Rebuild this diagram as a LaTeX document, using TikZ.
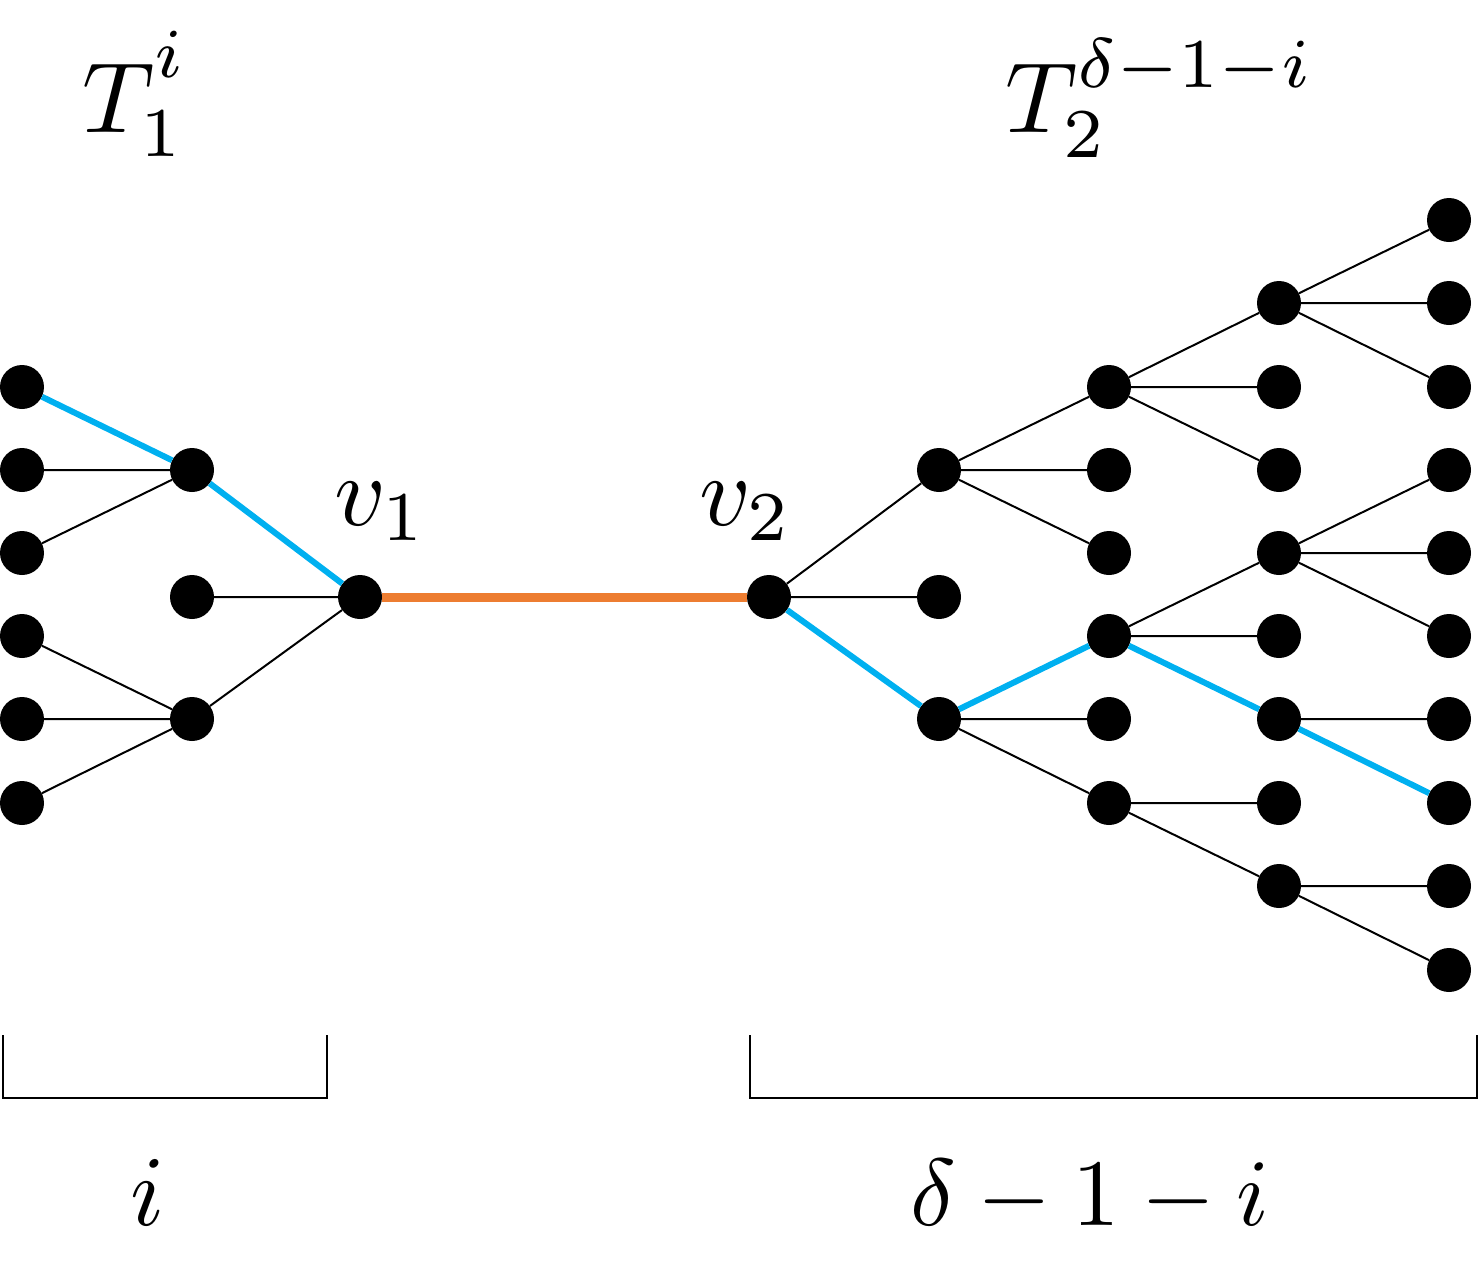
\documentclass[tikz,border=0pt]{standalone}
\begin{document}
\begin{tikzpicture}[x=1pt,y=-1pt,
  vtx/.style={circle,fill=black,draw=none,minimum size=44pt,inner sep=0pt},
  edge/.style={line width=2pt,black},
  bluepath/.style={line width=6pt,color=pathblue},
  bridge/.style={line width=9pt,color=bridgeorange},
  lbl/.style={scale=10,inner sep=0pt},
  brk/.style={line width=2pt,black}]
\definecolor{pathblue}{HTML}{00B0F0}
\definecolor{bridgeorange}{HTML}{ED7D31}
\useasboundingbox (0,0) rectangle (1479,1264);
% vertices
\foreach \n/\y in {a1/387,a2/470,a3/553,a4/636,a5/719,a6/803}
  \node[vtx] (\n) at (22,\y) {};
\foreach \n/\y in {b1/470,b2/597,b3/719}
  \node[vtx] (\n) at (192,\y) {};
\node[vtx] (v1) at (360,597) {};
\node[vtx] (v2) at (769,597) {};
\foreach \n/\y in {c1/470,c2/597,c3/719}
  \node[vtx] (\n) at (939,\y) {};
\foreach \n/\y in {d1/387,d2/470,d3/553,d4/636,d5/719,d6/803}
  \node[vtx] (\n) at (1109,\y) {};
\foreach \n/\y in {e1/303,e2/387,e3/470,e4/553,e5/636,e6/719,e7/803,e8/886}
  \node[vtx] (\n) at (1279,\y) {};
\foreach \n/\y in {f1/220,f2/303,f3/387,f4/470,f5/553,f6/636,f7/719,f8/803,f9/886,f10/970}
  \node[vtx] (\n) at (1449,\y) {};
% edges
\draw[edge] (a2) -- (b1) (a3) -- (b1) (a4) -- (b3) (a5) -- (b3) (a6) -- (b3)
  (b2) -- (v1) (b3) -- (v1)
  (v2) -- (c1) (v2) -- (c2)
  (c1) -- (d1) (c1) -- (d2) (c1) -- (d3)
  (c3) -- (d5) (c3) -- (d6)
  (d1) -- (e1) (d1) -- (e2) (d1) -- (e3)
  (d4) -- (e4) (d4) -- (e5)
  (d6) -- (e7) (d6) -- (e8)
  (e1) -- (f1) (e1) -- (f2) (e1) -- (f3)
  (e4) -- (f4) (e4) -- (f5) (e4) -- (f6)
  (e6) -- (f7)
  (e8) -- (f9) (e8) -- (f10);
\draw[bluepath] (a1) -- (b1) (b1) -- (v1);
\draw[bluepath] (v2) -- (c3) (c3) -- (d4) (d4) -- (e6) (e6) -- (f8);
\draw[bridge] (v1) -- (v2);
% labels
\node[lbl,anchor=base west] (t1) at (80,132) {$T_1^{\raisebox{1.8pt}{$\scriptstyle i$}}$};
\node[lbl,anchor=base west] (t2) at (1003,132) {$T_2^{\raisebox{0.8pt}{$\scriptstyle\delta-1-i$}}$};
\node[lbl,anchor=base west] (lv1) at (332,525) {$v_1$};
\node[lbl,anchor=base west] (lv2) at (697,525) {$v_2$};
\node[lbl,anchor=base] (li) at (148,1225) {$i$};
\node[lbl,anchor=base,scale=0.95] (lr) at (1090,1225) {$\delta-1-i$};
% brackets
\draw[brk] (3,1035) |- (327,1098) -- (327,1035);
\draw[brk] (750,1035) |- (1477,1098) -- (1477,1035);
\end{tikzpicture}
\end{document}
